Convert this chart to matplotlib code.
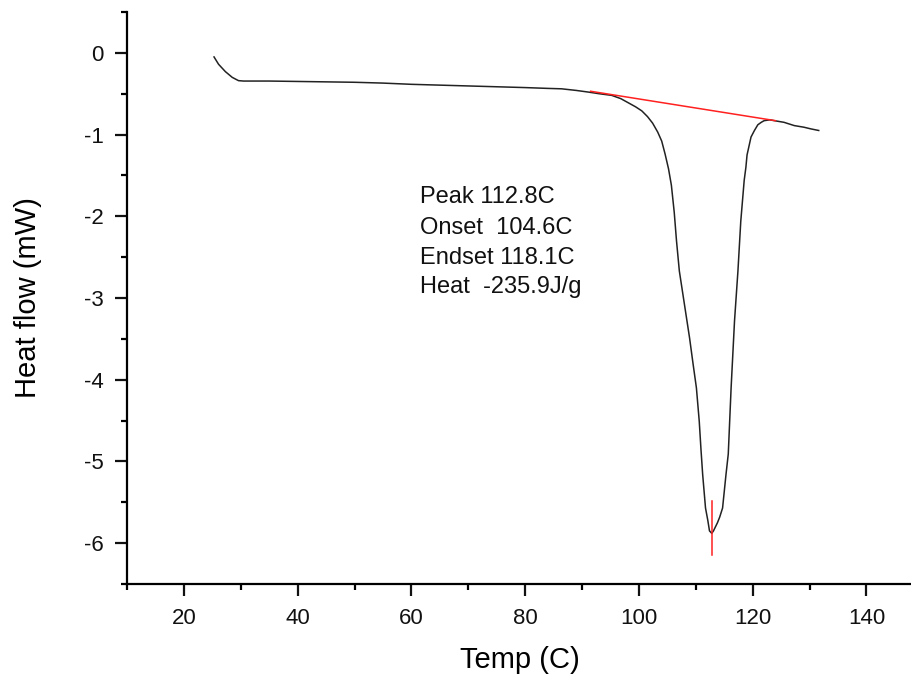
import matplotlib
matplotlib.use("Agg")
import matplotlib.pyplot as plt
from matplotlib.ticker import MultipleLocator

plt.rcParams['font.family'] = ['Liberation Sans', 'DejaVu Sans']
plt.rcParams['axes.unicode_minus'] = False

temp = [25.3, 26.1, 27.3, 28.5, 29.6, 30.5, 35, 40, 45, 50, 55, 60, 65, 70, 75, 80, 84,
        86.4, 89, 91.1, 93, 95.2, 96.8, 98.1, 99.4, 100.5, 101.5, 102.4, 103.3, 104.0,
        104.6, 105.2, 105.7, 106.2, 106.6, 107.1, 108.0, 108.9, 109.5, 110.1, 110.6,
        110.9, 111.2, 111.7, 112.1, 112.4, 112.8, 113.1, 113.8, 114.2, 114.7, 115.3,
        115.7, 116.2, 116.8, 117.4, 117.9, 118.5, 118.8, 119.0, 119.7, 120.3, 120.9,
        121.5, 122.0, 123.0, 123.8, 125.5, 127.3, 129.0, 130.2, 131.6]
heat_flow = [-0.05, -0.14, -0.23, -0.30, -0.34, -0.345, -0.345, -0.35, -0.355, -0.36,
             -0.37, -0.385, -0.395, -0.405, -0.415, -0.425, -0.435, -0.44, -0.46, -0.48,
             -0.50, -0.52, -0.56, -0.61, -0.66, -0.71, -0.78, -0.86, -0.97, -1.08, -1.24,
             -1.42, -1.62, -1.95, -2.30, -2.67, -3.08, -3.49, -3.80, -4.10, -4.51, -4.85,
             -5.16, -5.57, -5.72, -5.85, -5.88, -5.85, -5.75, -5.68, -5.57, -5.16, -4.91,
             -4.10, -3.28, -2.67, -2.06, -1.56, -1.40, -1.25, -1.03, -0.95, -0.88, -0.85,
             -0.83, -0.82, -0.83, -0.85, -0.89, -0.91, -0.93, -0.95]

baseline_temp = [91.5, 124.0]
baseline_flow = [-0.47, -0.83]
peak_temp = [112.8, 112.8]
peak_marker = [-5.48, -6.14]

annotation = ["Peak 112.8C", "Onset  104.6C", "Endset 118.1C", "Heat  -235.9J/g"]

fig = plt.figure(figsize=(9.12, 6.84), dpi=100)
ax = fig.add_axes([127/912, 100/684, 1 - 127/912, 572/684])

ax.plot(temp, heat_flow, color='#222222', lw=1.1)
ax.plot(baseline_temp, baseline_flow, color='#ff2020', lw=1.1)
ax.plot(peak_temp, peak_marker, color='#ff2020', lw=1.1)

ax.set_xlim(10, 148)
ax.set_ylim(-6.5, 0.5)
ax.xaxis.set_major_locator(MultipleLocator(20))
ax.xaxis.set_minor_locator(MultipleLocator(10))
ax.yaxis.set_major_locator(MultipleLocator(1))
ax.yaxis.set_minor_locator(MultipleLocator(0.5))

for s in ['top', 'right']:
    ax.spines[s].set_visible(False)
for s in ['left', 'bottom']:
    ax.spines[s].set_linewidth(1.6)

ax.tick_params(which='major', direction='out', length=8.5, width=1.6, labelsize=16,
               colors='#111111', pad=8.5)
ax.tick_params(which='minor', direction='out', length=4.3, width=1.6)

ax.set_xlabel("Temp (C)", fontsize=21)
ax.set_ylabel("Heat flow (mW)", fontsize=21)
ax.xaxis.set_label_coords(0.5, -(660 - 584) / 572, transform=ax.transAxes)
ax.yaxis.set_label_coords(-(127 - 28) / 785, 0.5, transform=ax.transAxes)
ax.xaxis.label.set_va('center')
ax.yaxis.label.set_va('center')

ys = [196.7, 228, 258, 287]
for txt, ypx in zip(annotation, ys):
    fig.text(420/912, 1 - ypx/684, txt, fontsize=17, va='center', ha='left', color='#111111')

fig.savefig("out.png", dpi=100)
